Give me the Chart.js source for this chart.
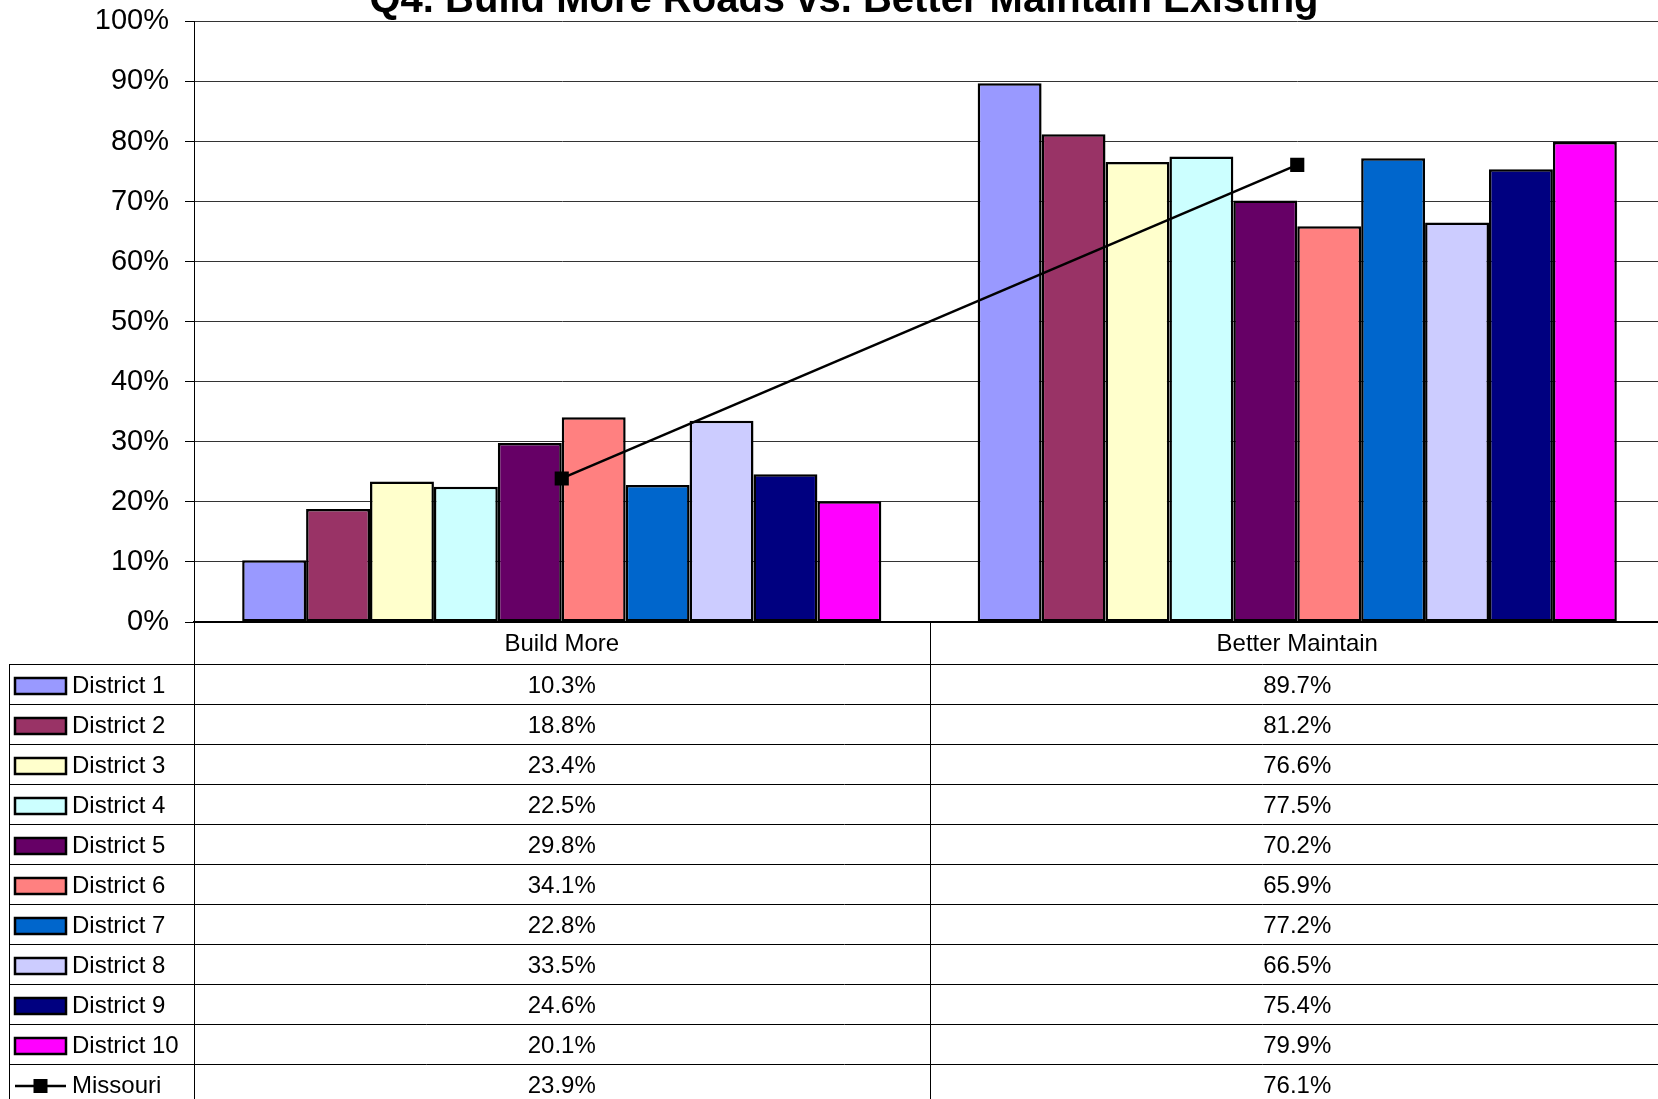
<!DOCTYPE html>
<html>
<head>
<meta charset="utf-8">
<title>Q4. Build More Roads vs. Better Maintain Existing</title>
<script src="https://cdn.jsdelivr.net/npm/chart.js@4.4.1/dist/chart.umd.min.js"></script>
<style>
  html, body { margin: 0; padding: 0; background: #fff; overflow: hidden; }
  #wrap { position: relative; width: 1680px; height: 1110px; }
  /* the chart is a bit taller than the page; shift it so the title runs off the top */
  #chart { position: absolute; left: 0; top: -12px; }
</style>
</head>
<body>
<div id="wrap"><canvas id="chart" width="1680" height="1122"></canvas></div>
<script>
/* ---------- Data ---------- */
const categories = ["Build More", "Better Maintain"];
const districts = ["District 1", "District 2", "District 3", "District 4", "District 5",
                   "District 6", "District 7", "District 8", "District 9", "District 10"];
const buildMore      = [10.3, 18.8, 23.4, 22.5, 29.8, 34.1, 22.8, 33.5, 24.6, 20.1];
const betterMaintain = [89.7, 81.2, 76.6, 77.5, 70.2, 65.9, 77.2, 66.5, 75.4, 79.9];
const missouriLabel  = "Missouri";
const missouri       = [23.9, 76.1];
const districtColors = ["#9999FF", "#993366", "#FFFFCC", "#CCFFFF", "#660066",
                        "#FF8080", "#0066CC", "#CCCCFF", "#000080", "#FF00FF"];
const chartTitle = "Q4. Build More Roads vs. Better Maintain Existing";

/* ---------- Layout (canvas coordinates) ---------- */
const FONT = "'Liberation Sans', Arial, sans-serif";
const CANVAS_H = 1122;
const PLOT_BOTTOM = 634, PLOT_LEFT = 194;
const TABLE_LEFT = 9, HEADER_BOTTOM = 676, ROW_H = 40;
const fmt = (v) => v.toFixed(1) + "%";

/* ---------- Title ---------- */
const titlePlugin = {
  id: "cutTitle",
  afterDraw(chart) {
    const ctx = chart.ctx;
    ctx.save();
    ctx.font = `bold 40px ${FONT}`;
    ctx.fillStyle = "#000";
    ctx.textAlign = "center";
    ctx.textBaseline = "alphabetic";
    ctx.fillText(chartTitle, 844, 24);
    ctx.restore();
  }
};

/* ---------- Data table with legend keys under the plot ---------- */
const tablePlugin = {
  id: "dataTable",
  afterDraw(chart) {
    const ctx = chart.ctx;
    const xs = chart.scales.x;
    const W = chart.width, H = chart.height;
    const colX = categories.map((c, i) => xs.getPixelForValue(i));
    const midX = (colX[0] + colX[1]) / 2;
    const rows = districts.length + 1;

    ctx.save();
    ctx.strokeStyle = "#000";
    ctx.lineWidth = 1;
    const line = (x1, y1, x2, y2) => {
      ctx.beginPath(); ctx.moveTo(x1, y1); ctx.lineTo(x2, y2); ctx.stroke();
    };
    // grid of the table
    for (let r = 0; r <= rows; r++) {
      const y = Math.round(HEADER_BOTTOM + r * ROW_H) + 0.5;
      line(TABLE_LEFT, y, W, y);
    }
    line(TABLE_LEFT + 0.5, HEADER_BOTTOM, TABLE_LEFT + 0.5, H);
    line(PLOT_LEFT + 0.5, PLOT_BOTTOM, PLOT_LEFT + 0.5, H);
    line(Math.round(midX) + 0.5, PLOT_BOTTOM, Math.round(midX) + 0.5, H);

    ctx.fillStyle = "#000";
    ctx.font = `24px ${FONT}`;
    ctx.textBaseline = "middle";
    ctx.textAlign = "center";
    categories.forEach((c, i) => ctx.fillText(c, colX[i], (PLOT_BOTTOM + HEADER_BOTTOM) / 2 + 1));

    const allRows = districts.map((d, i) => ({
      name: d, vals: [buildMore[i], betterMaintain[i]], color: districtColors[i], line: false
    }));
    allRows.push({ name: missouriLabel, vals: missouri, color: "#000", line: true });

    allRows.forEach((row, r) => {
      const cy = HEADER_BOTTOM + r * ROW_H + ROW_H / 2 + 2;
      // legend key
      if (row.line) {
        ctx.lineWidth = 2.5;
        line(15, cy, 66, cy);
        ctx.fillRect(40.5 - 7, cy - 7, 14, 14);
        ctx.lineWidth = 1;
      } else {
        ctx.fillStyle = row.color;
        ctx.fillRect(15, cy - 8, 51, 16);
        ctx.lineWidth = 2.5;
        ctx.strokeRect(15, cy - 8, 51, 16);
        ctx.lineWidth = 1;
      }
      ctx.fillStyle = "#000";
      ctx.textAlign = "left";
      ctx.fillText(row.name, 72, cy);
      ctx.textAlign = "center";
      row.vals.forEach((v, i) => ctx.fillText(fmt(v), colX[i], cy));
    });
    ctx.restore();
  }
};

/* ---------- Datasets ---------- */
const barSets = districts.map((name, i) => ({
  type: "bar",
  label: name,
  data: [buildMore[i], betterMaintain[i]],
  backgroundColor: districtColors[i],
  borderColor: "#000",
  borderWidth: 2.5,
  borderSkipped: false,
  categoryPercentage: 0.869,
  barPercentage: 1.0,
  order: 1
}));

const missouriSet = {
  type: "line",
  label: missouriLabel,
  data: missouri,
  borderColor: "#000",
  borderWidth: 2.5,
  pointStyle: "rect",
  pointRadius: 10,
  pointBackgroundColor: "#000",
  pointBorderColor: "#000",
  pointBorderWidth: 0,
  tension: 0,
  order: 0
};

new Chart(document.getElementById("chart"), {
  type: "bar",
  data: { labels: categories, datasets: [...barSets, missouriSet] },
  options: {
    responsive: false,
    animation: false,
    layout: { padding: { top: 9, right: 15, left: 0, bottom: 0 } },
    plugins: { legend: { display: false }, tooltip: { enabled: false }, title: { display: false } },
    scales: {
      x: {
        grid: { display: false },
        ticks: { display: false },
        border: { display: true, color: "#000", width: 2 },
        afterFit: (s) => { s.height = CANVAS_H - PLOT_BOTTOM; }
      },
      y: {
        min: 0, max: 100,
        ticks: {
          stepSize: 10,
          padding: 16,
          color: "#000",
          font: { family: FONT, size: 29 },
          callback: (v) => v + "%"
        },
        grid: { color: "#333", lineWidth: 1, tickLength: 9, tickColor: "#000" },
        border: { display: true, color: "#000", width: 1 },
        afterFit: (s) => { s.width = PLOT_LEFT; }
      }
    }
  },
  plugins: [titlePlugin, tablePlugin]
});
</script>
</body>
</html>
